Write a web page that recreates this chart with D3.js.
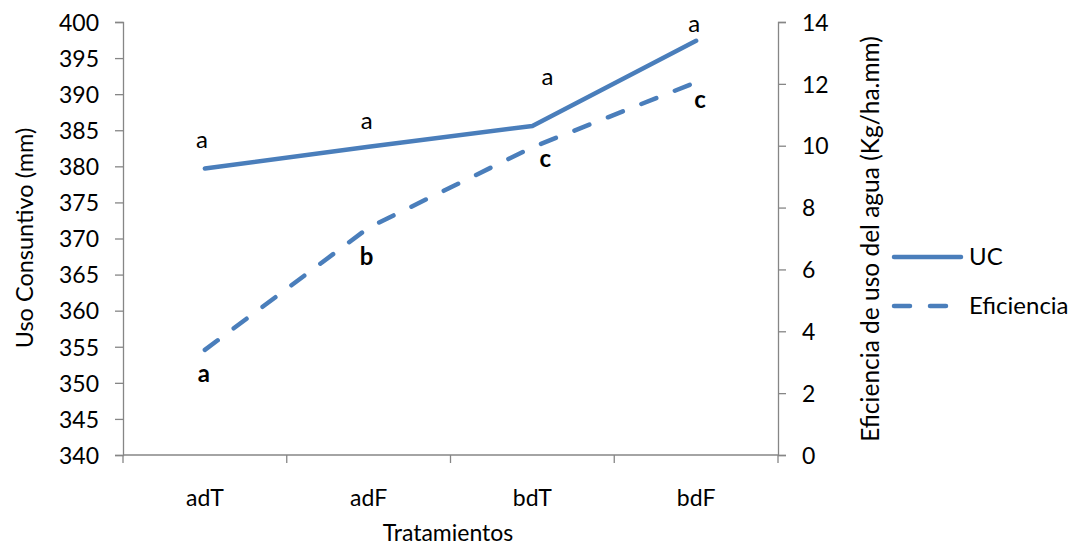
<!DOCTYPE html>
<html>
<head>
<meta charset="utf-8">
<script src="https://cdn.jsdelivr.net/npm/d3@7"></script>
<style>
  body { margin: 0; background: #fff; }
  svg text { font-family: Lato, "Open Sans", sans-serif; fill: #000; }
</style>
</head>
<body>
<svg id="chart" width="1073" height="545"></svg>
<script>
// Treatments and measured series
const categories = ["adT", "adF", "bdT", "bdF"];
const ucValues = [379.7, 382.7, 385.6, 397.4];          // Uso Consuntivo (mm)
const efValues = [3.4, 7.35, 9.95, 12.05];              // Eficiencia (Kg/ha.mm)
const ucLetters = ["a", "a", "a", "a"];
const efLetters = ["a", "b", "c", "c"];
const leftTicks = d3.range(340, 401, 5);
const rightTicks = d3.range(0, 15, 2);

const color = "#4a7ebb";
const axisColor = "#868686";
const dash = "16 20";

const svg = d3.select("#chart");
const plot = { left: 123, right: 778, top: 22, bottom: 455 };

const x = d3.scaleBand().domain(categories).range([plot.left, plot.right]);
const yL = d3.scaleLinear().domain([340, 400]).range([plot.bottom, plot.top]);
const yR = d3.scaleLinear().domain([0, 14]).range([plot.bottom, plot.top]);
const cx = d => x(d) + x.bandwidth() / 2;

function styleAxis(g) {
  g.select(".domain").attr("stroke", axisColor).attr("stroke-width", 1.3);
  g.selectAll(".tick line").attr("stroke", axisColor).attr("stroke-width", 1.3);
  g.selectAll(".tick text").attr("font-size", 23).attr("fill", "#000").attr("dy", "0.36em");
}

// Left axis
svg.append("g")
  .attr("transform", `translate(${plot.left},0)`)
  .call(d3.axisLeft(yL).tickValues(leftTicks).tickSize(8).tickSizeOuter(8).tickPadding(16))
  .call(styleAxis);

// Right axis
svg.append("g")
  .attr("transform", `translate(${plot.right},0)`)
  .call(d3.axisRight(yR).tickValues(rightTicks).tickSize(8).tickSizeOuter(8).tickPadding(16))
  .call(styleAxis);

// Bottom axis: ticks sit at the category boundaries
const xAxis = svg.append("g")
  .attr("transform", `translate(0,${plot.bottom})`);
xAxis.append("line")
  .attr("x1", plot.left).attr("x2", plot.right)
  .attr("stroke", axisColor).attr("stroke-width", 1.3);
const bounds = categories.map(c => x(c)).concat([plot.right]);
xAxis.selectAll("line.tk").data(bounds).join("line")
  .attr("class", "tk")
  .attr("x1", d => d).attr("x2", d => d)
  .attr("y1", 0).attr("y2", 8)
  .attr("stroke", axisColor).attr("stroke-width", 1.3);
xAxis.selectAll("text").data(categories).join("text")
  .attr("x", d => cx(d)).attr("y", 51)
  .attr("text-anchor", "middle").attr("font-size", 23)
  .text(d => d);

// Axis titles
svg.append("text")
  .attr("transform", `translate(33,238) rotate(-90)`)
  .attr("text-anchor", "middle").attr("font-size", 23.5)
  .text("Uso Consuntivo (mm)");
svg.append("text")
  .attr("transform", `translate(879,239) rotate(-90)`)
  .attr("text-anchor", "middle").attr("font-size", 24.5)
  .text("Eficiencia de uso del agua (Kg/ha.mm)");
svg.append("text")
  .attr("x", 448).attr("y", 541)
  .attr("text-anchor", "middle").attr("font-size", 23)
  .text("Tratamientos");

// Series lines
const ucLine = d3.line().x((d, i) => cx(categories[i])).y(d => yL(d));
const efLine = d3.line().x((d, i) => cx(categories[i])).y(d => yR(d));

svg.append("path").datum(ucValues)
  .attr("d", ucLine).attr("fill", "none")
  .attr("stroke", color).attr("stroke-width", 4.5)
  .attr("stroke-linecap", "round").attr("stroke-linejoin", "round");

svg.append("path").datum(efValues)
  .attr("d", efLine).attr("fill", "none")
  .attr("stroke", color).attr("stroke-width", 4.5)
  .attr("stroke-dasharray", dash)
  .attr("stroke-linecap", "round").attr("stroke-linejoin", "round");

// Significance letters
const ucOffsets = [[-3, -20], [-2, -18], [15, -41], [-2, -9]];
svg.selectAll("text.ucl").data(ucValues).join("text")
  .attr("class", "ucl")
  .attr("x", (d, i) => cx(categories[i]) + ucOffsets[i][0])
  .attr("y", (d, i) => yL(d) + ucOffsets[i][1])
  .attr("text-anchor", "middle").attr("font-size", 24)
  .text((d, i) => ucLetters[i]);

const efOffsets = [[-1, 32], [-2, 37], [13, 20], [4, 26]];
svg.selectAll("text.efl").data(efValues).join("text")
  .attr("class", "efl")
  .attr("x", (d, i) => cx(categories[i]) + efOffsets[i][0])
  .attr("y", (d, i) => yR(d) + efOffsets[i][1])
  .attr("text-anchor", "middle").attr("font-size", 24).attr("font-weight", "bold")
  .text((d, i) => efLetters[i]);

// Legend
const legend = svg.append("g");
const items = [
  { name: "UC", dash: null, y: 257 },
  { name: "Eficiencia", dash: dash, y: 306 }
];
items.forEach(it => {
  legend.append("line")
    .attr("x1", 894).attr("x2", 961)
    .attr("y1", it.y).attr("y2", it.y)
    .attr("stroke", color).attr("stroke-width", 4.5)
    .attr("stroke-linecap", "round")
    .attr("stroke-dasharray", it.dash);
  legend.append("text")
    .attr("x", 969).attr("y", it.y + 8)
    .attr("font-size", 24)
    .text(it.name);
});
</script>
</body>
</html>
